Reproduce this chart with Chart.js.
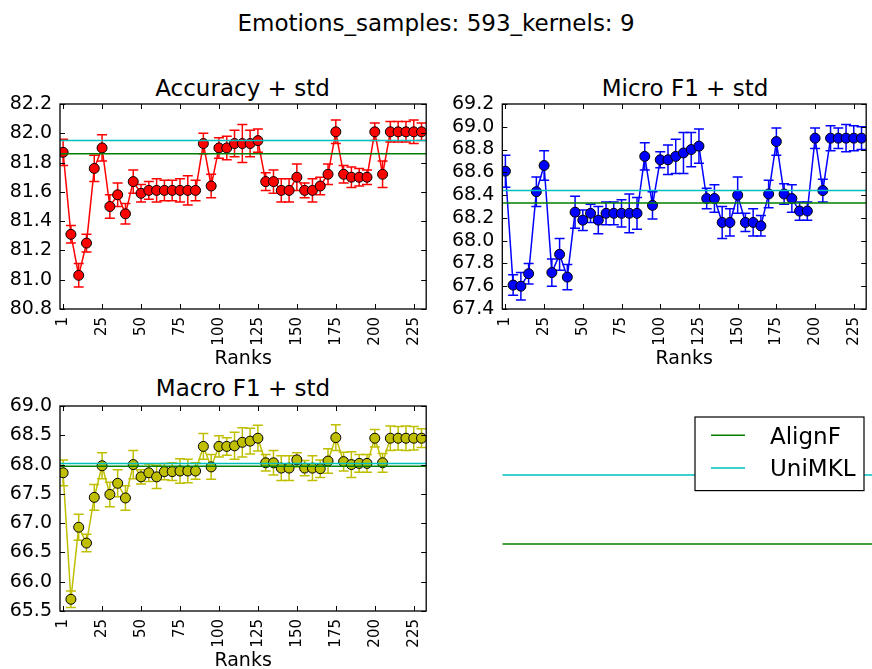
<!DOCTYPE html>
<html>
<head>
<meta charset="utf-8">
<script src="https://cdn.jsdelivr.net/npm/chart.js@4.4.1/dist/chart.umd.min.js"></script>
<style>
    html, body { margin: 0; padding: 0; background: #fff; overflow: hidden; width: 872px; height: 669px; }
    body { position: relative; font-family: 'DejaVu Sans', sans-serif; color: #000; }
    .judul { position: absolute; font-size: 23px; line-height: 23px; white-space: nowrap; transform: translateX(-50%); }
    canvas { position: absolute; }
</style>
</head>
<body>
<div class="judul" style="left:436px; top:11.6px">Emotions_samples: 593_kernels: 9</div>
<div class="judul" style="left:242.5px; top:77px">Accuracy + std</div>
<div class="judul" style="left:685px; top:77px">Micro F1 + std</div>
<div class="judul" style="left:243px; top:377px">Macro F1 + std</div>

<canvas id="accChart" width="440" height="296" style="left:0px; top:74px"></canvas>
<canvas id="microChart" width="440" height="296" style="left:440px; top:74px"></canvas>
<canvas id="macroChart" width="440" height="296" style="left:0px; top:375.7px"></canvas>
<canvas id="legendChart" width="440" height="296" style="left:440px; top:375.7px"></canvas>

<script>
// posisi rank pada sumbu x (label pertama ditulis "1")
const ranks = [0, 5, 10, 15, 20, 25, 30, 35, 40, 45, 50, 55, 60, 65, 70, 75, 80, 85, 90, 95,
    100, 105, 110, 115, 120, 125, 130, 135, 140, 145, 150, 155, 160, 165, 170, 175, 180, 185, 190, 195,
    200, 205, 210, 215, 220, 225, 230];
const xTickPos = [0, 25, 50, 75, 100, 125, 150, 175, 200, 225];
const xTickLabels = ['1', '25', '50', '75', '100', '125', '150', '175', '200', '225'];

const accMean = [81.87, 81.31, 81.03, 81.25, 81.76, 81.90, 81.50, 81.58, 81.45, 81.67,
    81.59, 81.61, 81.61, 81.61, 81.61, 81.61, 81.61, 81.61, 81.93, 81.64,
    81.90, 81.90, 81.93, 81.93, 81.93, 81.95, 81.67, 81.67, 81.61, 81.61,
    81.70, 81.61, 81.61, 81.64, 81.72, 82.01, 81.72, 81.70, 81.70, 81.70,
    82.01, 81.72, 82.01, 82.01, 82.01, 82.01, 82.01];
const accStd = [0.09, 0.06, 0.08, 0.06, 0.09, 0.09, 0.08, 0.08, 0.07, 0.08,
    0.06, 0.06, 0.08, 0.07, 0.07, 0.08, 0.10, 0.07, 0.07, 0.08,
    0.07, 0.08, 0.09, 0.13, 0.09, 0.08, 0.06, 0.08, 0.08, 0.08,
    0.09, 0.05, 0.08, 0.06, 0.07, 0.08, 0.06, 0.07, 0.06, 0.05,
    0.06, 0.09, 0.07, 0.07, 0.07, 0.08, 0.06];
const accAlignF = 81.86;
const accUniMKL = 81.95;
const accTicks = [80.8, 81.0, 81.2, 81.4, 81.6, 81.8, 82.0, 82.2];

const microMean = [68.61, 67.61, 67.60, 67.71, 68.43, 68.66, 67.72, 67.88, 67.68, 68.25,
    68.18, 68.24, 68.18, 68.24, 68.24, 68.24, 68.24, 68.24, 68.74, 68.31,
    68.71, 68.71, 68.74, 68.77, 68.80, 68.83, 68.37, 68.37, 68.16, 68.16,
    68.40, 68.16, 68.16, 68.13, 68.41, 68.87, 68.41, 68.37, 68.26, 68.26,
    68.90, 68.44, 68.90, 68.90, 68.90, 68.90, 68.90];
const microStd = [0.14, 0.09, 0.12, 0.09, 0.13, 0.13, 0.12, 0.14, 0.11, 0.14,
    0.09, 0.08, 0.12, 0.10, 0.10, 0.12, 0.17, 0.14, 0.12, 0.12,
    0.07, 0.13, 0.15, 0.18, 0.15, 0.15, 0.09, 0.12, 0.14, 0.12,
    0.16, 0.08, 0.12, 0.09, 0.12, 0.12, 0.09, 0.12, 0.08, 0.08,
    0.09, 0.10, 0.11, 0.09, 0.12, 0.11, 0.10];
const microAlignF = 68.33;
const microUniMKL = 68.44;
const microTicks = [67.4, 67.6, 67.8, 68.0, 68.2, 68.4, 68.6, 68.8, 69.0, 69.2];

const macroMean = [67.86, 65.70, 66.93, 66.66, 67.44, 67.98, 67.49, 67.68, 67.43, 68.00,
    67.79, 67.86, 67.79, 67.88, 67.88, 67.89, 67.89, 67.89, 68.31, 67.96,
    68.31, 68.31, 68.32, 68.38, 68.40, 68.45, 68.03, 68.03, 67.94, 67.94,
    68.08, 67.94, 67.94, 67.93, 68.06, 68.46, 68.05, 68.00, 68.02, 68.02,
    68.45, 68.03, 68.45, 68.45, 68.45, 68.45, 68.45];
const macroStd = [0.22, 0.14, 0.22, 0.15, 0.22, 0.22, 0.21, 0.23, 0.21, 0.24,
    0.12, 0.15, 0.20, 0.14, 0.15, 0.21, 0.20, 0.14, 0.22, 0.21,
    0.18, 0.15, 0.23, 0.25, 0.22, 0.22, 0.14, 0.21, 0.21, 0.21,
    0.12, 0.13, 0.21, 0.15, 0.21, 0.22, 0.16, 0.22, 0.15, 0.15,
    0.15, 0.16, 0.21, 0.20, 0.21, 0.20, 0.16];
const macroAlignF = 67.97;
const macroUniMKL = 68.02;
const macroTicks = [65.5, 66.0, 66.5, 67.0, 67.5, 68.0, 68.5, 69.0];

// panel kosong kanan bawah: hanya garis AlignF / UniMKL dan legenda
const legendNames = ['AlignF', 'UniMKL'];
const legendPanelLevels = [1, 2];

const X_MIN = -2;
const X_MAX = 233;
const HIJAU = '#008000';
const CYAN = '#00bfbf';
const FONT = 'DejaVu Sans';

Chart.defaults.font.family = FONT;
Chart.defaults.color = '#000';

const errorBarPlugin = {
    id: 'errorBars',
    beforeDatasetsDraw(chart) {
        const ctx = chart.ctx;
        const area = chart.chartArea;
        const xs = chart.scales.x;
        const ys = chart.scales.y;
        chart.data.datasets.forEach(ds => {
            if (!ds.errors) return;
            ctx.save();
            ctx.beginPath();
            ctx.rect(area.left, area.top, area.right - area.left, area.bottom - area.top);
            ctx.clip();
            ctx.strokeStyle = ds.borderColor;
            ctx.lineWidth = 1.5;
            ds.data.forEach((p, j) => {
                const x = xs.getPixelForValue(p.x);
                const yTop = ys.getPixelForValue(p.y + ds.errors[j]);
                const yBot = ys.getPixelForValue(p.y - ds.errors[j]);
                ctx.beginPath();
                ctx.moveTo(x, yTop);
                ctx.lineTo(x, yBot);
                ctx.moveTo(x - 5, yTop);
                ctx.lineTo(x + 5, yTop);
                ctx.moveTo(x - 5, yBot);
                ctx.lineTo(x + 5, yBot);
                ctx.stroke();
            });
            ctx.restore();
        });
    }
};

// bingkai hitam + tick ke dalam di keempat sisi (gaya matplotlib lama)
const bingkaiPlugin = {
    id: 'bingkai',
    afterDatasetsDraw(chart) {
        const ctx = chart.ctx;
        const a = chart.chartArea;
        const len = 5;
        ctx.save();
        ctx.strokeStyle = '#000';
        ctx.lineWidth = 1;
        ctx.beginPath();
        chart.scales.x.ticks.forEach(t => {
            const x = Math.round(chart.scales.x.getPixelForValue(t.value)) + 0.5;
            ctx.moveTo(x, a.bottom);
            ctx.lineTo(x, a.bottom - len);
            ctx.moveTo(x, a.top);
            ctx.lineTo(x, a.top + len);
        });
        chart.scales.y.ticks.forEach(t => {
            const y = Math.round(chart.scales.y.getPixelForValue(t.value)) + 0.5;
            ctx.moveTo(a.left, y);
            ctx.lineTo(a.left + len, y);
            ctx.moveTo(a.right, y);
            ctx.lineTo(a.right - len, y);
        });
        ctx.stroke();
        ctx.lineWidth = 1.3;
        ctx.strokeRect(a.left, a.top, a.right - a.left, a.bottom - a.top);
        ctx.restore();
    }
};

const legendaPlugin = {
    id: 'legenda',
    afterDraw(chart) {
        const ctx = chart.ctx;
        const a = chart.chartArea;
        const w = 169, h = 73.6;
        const x0 = a.right - 10.6 - w;
        const y0 = a.top + 11;
        const warna = [HIJAU, CYAN];
        ctx.save();
        ctx.fillStyle = '#fff';
        ctx.fillRect(x0, y0, w, h);
        ctx.strokeStyle = '#000';
        ctx.lineWidth = 1.2;
        ctx.strokeRect(x0, y0, w, h);
        legendNames.forEach((nama, i) => {
            const cy = y0 + 18.3 + i * 32.7;
            ctx.strokeStyle = warna[i];
            ctx.lineWidth = 1.5;
            ctx.beginPath();
            ctx.moveTo(x0 + 16, cy);
            ctx.lineTo(x0 + 50, cy);
            ctx.stroke();
            ctx.fillStyle = '#000';
            ctx.font = '23px "' + FONT + '"';
            ctx.textBaseline = 'alphabetic';
            ctx.fillText(nama, x0 + 75, cy + 8.4);
        });
        ctx.restore();
    }
};

function garisDatar(label, nilai, warna) {
    return {
        label: label,
        data: [{ x: X_MIN, y: nilai }, { x: X_MAX, y: nilai }],
        borderColor: warna,
        borderWidth: 1.5,
        pointRadius: 0,
        order: 0
    };
}

function buatPanel(id, means, stds, alignF, uniMKL, warna, yTicks, padKiri, padKanan) {
    const titik = ranks.map((r, i) => ({ x: r, y: means[i] }));
    return new Chart(document.getElementById(id), {
        type: 'line',
        data: {
            datasets: [
                garisDatar('AlignF', alignF, HIJAU),
                garisDatar('UniMKL', uniMKL, CYAN),
                {
                    label: 'mean',
                    data: titik,
                    errors: stds,
                    borderColor: warna,
                    backgroundColor: warna,
                    pointBackgroundColor: warna,
                    pointBorderColor: '#000',
                    pointBorderWidth: 1,
                    pointRadius: 5,
                    borderWidth: 1.5,
                    tension: 0,
                    order: 1
                }
            ]
        },
        options: {
            responsive: false,
            animation: false,
            events: [],
            layout: { padding: { left: 0, right: padKanan, top: 30, bottom: 0 } },
            plugins: {
                legend: { display: false },
                tooltip: { enabled: false },
                title: { display: false }
            },
            scales: {
                x: {
                    type: 'linear',
                    min: X_MIN,
                    max: X_MAX,
                    grid: { display: false, drawTicks: false },
                    border: { display: false },
                    afterBuildTicks: s => { s.ticks = xTickPos.map(v => ({ value: v })); },
                    afterFit: s => { s.height = 61; },
                    ticks: {
                        autoSkip: false,
                        minRotation: 90,
                        maxRotation: 90,
                        padding: 8,
                        color: '#000',
                        font: { size: 15 },
                        callback: v => xTickLabels[xTickPos.indexOf(v)]
                    },
                    title: {
                        display: true,
                        text: 'Ranks',
                        color: '#000',
                        font: { size: 19 },
                        padding: 0
                    }
                },
                y: {
                    min: yTicks[0],
                    max: yTicks[yTicks.length - 1],
                    grid: { display: false, drawTicks: false },
                    border: { display: false },
                    afterBuildTicks: s => { s.ticks = yTicks.map(v => ({ value: v })); },
                    afterFit: s => { s.width = padKiri; },
                    ticks: {
                        autoSkip: false,
                        padding: 8,
                        color: '#000',
                        font: { size: 19 },
                        callback: v => v.toFixed(1)
                    }
                }
            }
        },
        plugins: [errorBarPlugin, bingkaiPlugin]
    });
}

buatPanel('accChart', accMean, accStd, accAlignF, accUniMKL, '#ff0000', accTicks, 60, 7.7);
buatPanel('microChart', microMean, microStd, microAlignF, microUniMKL, '#0000ff', microTicks, 62.3, 5.4);
buatPanel('macroChart', macroMean, macroStd, macroAlignF, macroUniMKL, '#bfbf00', macroTicks, 60, 7.7);

new Chart(document.getElementById('legendChart'), {
    type: 'line',
    data: {
        datasets: [
            garisDatar('UniMKL', legendPanelLevels[1], CYAN),
            garisDatar('AlignF', legendPanelLevels[0], HIJAU)
        ]
    },
    options: {
        responsive: false,
        animation: false,
        events: [],
        layout: { padding: { left: 62.3, right: 5.4, top: 30, bottom: 59 } },
        plugins: { legend: { display: false }, tooltip: { enabled: false } },
        scales: {
            x: { type: 'linear', display: false, min: X_MIN, max: X_MAX },
            y: { display: false, min: 0, max: 3 }
        }
    },
    plugins: [legendaPlugin]
});
</script>
</body>
</html>
